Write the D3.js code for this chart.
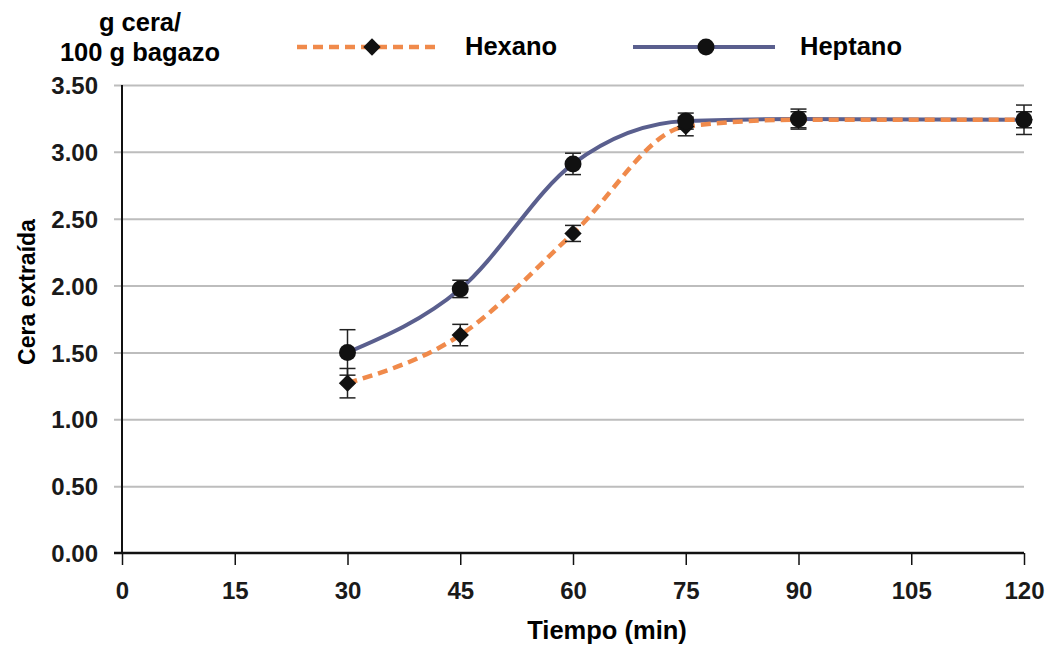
<!DOCTYPE html>
<html>
<head>
<meta charset="utf-8">
<script src="https://cdn.jsdelivr.net/npm/d3@7"></script>
<style>
  body { margin: 0; background: #fff; }
  svg { font-family: "Liberation Sans", Arial, sans-serif; font-weight: bold; }
  .tick text { fill: #1a1a1a; }
</style>
</head>
<body>
<svg id="chart" width="1050" height="646"></svg>
<script>
"use strict";

// data
var times = [30, 45, 60, 75, 90, 120];
var hexano = [1.27, 1.63, 2.39, 3.19, 3.24, 3.24];
var hexanoErr = [0.11, 0.08, 0.06, 0.07, 0.06, 0.06];
var heptano = [1.50, 1.975, 2.91, 3.23, 3.245, 3.24];
var heptanoErr = [0.17, 0.065, 0.08, 0.06, 0.075, 0.11];
var xTicks = [0, 15, 30, 45, 60, 75, 90, 105, 120];
var yTicks = [0, 0.5, 1, 1.5, 2, 2.5, 3, 3.5];

var orange = "#f08a4b",
  slate = "#5a5f8e";

var svg = d3.select("#chart"),
  margin = {top: 85, right: 26, bottom: 93, left: 122},
  width = 1050 - margin.left - margin.right,
  height = 646 - margin.top - margin.bottom,
  g = svg.append("g").attr("transform", "translate(" + margin.left + "," + margin.top + ")");

var x = d3.scaleLinear().domain([0, 120]).range([0, width]),
  y = d3.scaleLinear().domain([0, 3.5]).range([height, 0]);

// grid + y ticks
g.append("g")
  .attr("class", "grid")
  .call(d3.axisLeft(y).tickValues(yTicks.slice(1)).tickSize(-width - 8).tickFormat(""))
  .attr("transform", "translate(-8,0)")
  .call(function(s) {
    s.select(".domain").remove();
    s.selectAll("line").attr("stroke", "#bdbdbd").attr("stroke-width", 2).attr("x2", width + 8);
  });

g.append("g")
  .call(d3.axisLeft(y).tickValues(yTicks).tickSize(0).tickPadding(24).tickFormat(d3.format(".2f")))
  .call(function(s) {
    s.select(".domain").remove();
    s.selectAll("text").attr("font-size", 24).attr("font-weight", "bold").attr("dy", "0.36em");
  });

// y axis line
g.append("line")
  .attr("x1", 0).attr("x2", 0).attr("y1", 0).attr("y2", height)
  .attr("stroke", "#111").attr("stroke-width", 2);

// x axis
g.append("g")
  .attr("transform", "translate(0," + height + ")")
  .call(d3.axisBottom(x).tickValues(xTicks).tickSize(12).tickPadding(17).tickSizeOuter(0))
  .call(function(s) {
    s.select(".domain").attr("stroke", "#111").attr("stroke-width", 2.5).attr("d", "M-8,0H" + width);
    s.selectAll("line").attr("stroke", "#111").attr("stroke-width", 1.5);
    s.selectAll("text").attr("font-size", 24).attr("font-weight", "bold");
  });

var rows = function(vals, errs) {
  return times.map(function(t, i) { return {t: t, v: vals[i], e: errs[i]}; });
};
var hexRows = rows(hexano, hexanoErr),
  hepRows = rows(heptano, heptanoErr);

var line = d3.line()
  .x(function(d) { return x(d.t); })
  .y(function(d) { return y(d.v); })
  .curve(d3.curveMonotoneX);

g.append("path").datum(hepRows)
  .attr("d", line).attr("fill", "none")
  .attr("stroke", slate).attr("stroke-width", 4);

g.append("path").datum(hexRows)
  .attr("d", line).attr("fill", "none")
  .attr("stroke", orange).attr("stroke-width", 4.5).attr("stroke-dasharray", "10,6");

// error bars
function errorBars(data) {
  var eb = g.append("g").attr("stroke", "#222").attr("stroke-width", 1.5);
  eb.selectAll(".v").data(data).enter().append("line")
    .attr("x1", function(d) { return x(d.t); }).attr("x2", function(d) { return x(d.t); })
    .attr("y1", function(d) { return y(d.v + d.e); }).attr("y2", function(d) { return y(d.v - d.e); });
  [1, -1].forEach(function(sgn) {
    eb.selectAll(".c" + sgn).data(data).enter().append("line")
      .attr("x1", function(d) { return x(d.t) - 8; }).attr("x2", function(d) { return x(d.t) + 8; })
      .attr("y1", function(d) { return y(d.v + sgn * d.e); }).attr("y2", function(d) { return y(d.v + sgn * d.e); });
  });
}
errorBars(hexRows);
errorBars(hepRows);

// square turned 45deg, like the Excel diamond marker
var diamond = d3.symbol().type(d3.symbolSquare).size(150);

g.selectAll(".hex").data(hexRows).enter().append("path")
  .attr("d", diamond)
  .attr("transform", function(d) { return "translate(" + x(d.t) + "," + y(d.v) + ") rotate(45)"; })
  .attr("fill", "#111");

g.selectAll(".hep").data(hepRows).enter().append("circle")
  .attr("cx", function(d) { return x(d.t); })
  .attr("cy", function(d) { return y(d.v); })
  .attr("r", 8.5)
  .attr("fill", "#111");

// titles
svg.append("text")
  .attr("x", 607).attr("y", 639)
  .attr("text-anchor", "middle").attr("font-size", 25.5)
  .text("Tiempo (min)");

svg.append("text")
  .attr("transform", "translate(35,292) rotate(-90)")
  .attr("text-anchor", "middle").attr("font-size", 23)
  .text("Cera extraída");

svg.append("text")
  .attr("x", 140).attr("y", 31)
  .attr("text-anchor", "middle").attr("font-size", 25.5)
  .text("g cera/");
svg.append("text")
  .attr("x", 140).attr("y", 61)
  .attr("text-anchor", "middle").attr("font-size", 25.5)
  .text("100 g bagazo");

// legend
var legend = svg.append("g");
legend.append("line")
  .attr("x1", 297).attr("x2", 440).attr("y1", 47).attr("y2", 47)
  .attr("stroke", orange).attr("stroke-width", 4.5).attr("stroke-dasharray", "10,6");
legend.append("path").attr("d", diamond).attr("transform", "translate(372,47) rotate(45)").attr("fill", "#111");
legend.append("text").attr("x", 465).attr("y", 55).attr("font-size", 25.5).text("Hexano");

legend.append("line")
  .attr("x1", 633).attr("x2", 775).attr("y1", 47).attr("y2", 47)
  .attr("stroke", slate).attr("stroke-width", 4);
legend.append("circle").attr("cx", 706).attr("cy", 47).attr("r", 8.5).attr("fill", "#111");
legend.append("text").attr("x", 800).attr("y", 55).attr("font-size", 25.5).text("Heptano");
</script>
</body>
</html>
